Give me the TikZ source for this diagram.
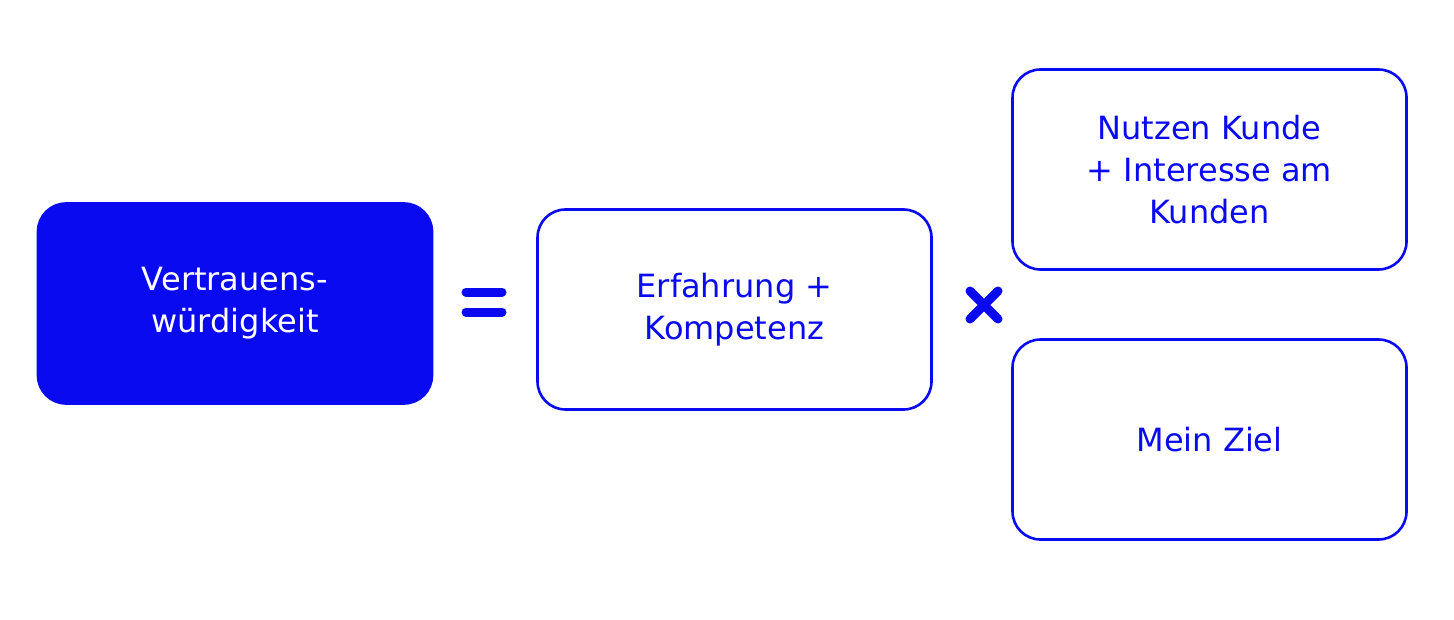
\documentclass[tikz,border=0pt]{standalone}
\usepackage{fontspec}
\setmainfont{DejaVu Sans}
\definecolor{bl}{RGB}{10,10,240}
\begin{document}
\begin{tikzpicture}[x=0.5pt,y=-0.5pt,
  box/.style={draw=bl,line width=1.3pt,rounded corners=14pt,text=bl,align=center,font=\fontsize{16}{21}\selectfont},
  sym/.style={bl,line width=4.5pt,line cap=round}]
\useasboundingbox (0,0) rectangle (1454,620);
\node[box,fill=bl,text=white,minimum width=197pt,minimum height=100pt] (v) at (235,303.5) {Vertrauens-\\würdigkeit};
\node[box,minimum width=197pt,minimum height=100pt] (e) at (734.5,309.5) {Erfahrung +\\Kompetenz};
\node[box,minimum width=197pt,minimum height=100pt] (n) at (1209.5,169.5) {Nutzen Kunde\\+ Interesse am\\Kunden};
\node[box,minimum width=197pt,minimum height=100pt] (m) at (1209.5,439.5) {Mein Ziel};
\coordinate (eq) at (484,302);
\draw[sym] ([xshift=-9pt,yshift=-5pt]eq) -- ([xshift=9pt,yshift=-5pt]eq);
\draw[sym] ([xshift=-9pt,yshift=5pt]eq) -- ([xshift=9pt,yshift=5pt]eq);
\coordinate (x) at (984,305);
\draw[sym] ([xshift=-7pt,yshift=-7pt]x) -- ([xshift=7pt,yshift=7pt]x);
\draw[sym] ([xshift=-7pt,yshift=7pt]x) -- ([xshift=7pt,yshift=-7pt]x);
\end{tikzpicture}
\end{document}
